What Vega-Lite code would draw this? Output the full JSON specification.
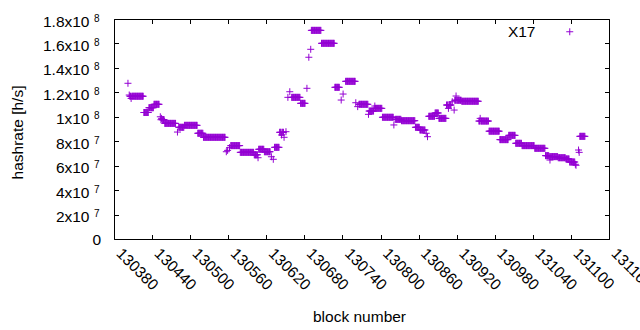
{
"$schema": "https://vega.github.io/schema/vega-lite/v6.json",
"width": 495, "height": 220,
"autosize": "none",
"padding": {"left": 114, "top": 19, "right": 31, "bottom": 91},
"background": "white",
"config": {
  "view": {"stroke": "black", "strokeWidth": 1},
  "font": "Liberation Sans",
  "axis": {"grid": false, "domain": false, "tickColor": "black", "tickWidth": 1, "labelColor": "black", "titleColor": "black",
    "labelFont": "Liberation Sans", "titleFont": "Liberation Sans", "labelFontSize": 15.5, "titleFontSize": 15.5,
    "titleFontWeight": "normal", "labelFlush": false, "labelOverlap": false}
},
"data": {"values": [
{"b":130402,"h":127.4e6},{"b":130404,"h":117.8e6},{"b":130407,"h":115.0e6},
{"b":130405,"h":116.8e6},{"b":130406,"h":116.8e6},{"b":130408,"h":116.8e6},{"b":130409,"h":116.8e6},{"b":130410,"h":116.8e6},{"b":130411,"h":116.8e6},{"b":130412,"h":116.8e6},{"b":130413,"h":116.8e6},{"b":130414,"h":116.8e6},{"b":130415,"h":116.8e6},{"b":130416,"h":116.8e6},{"b":130417,"h":116.8e6},{"b":130418,"h":116.8e6},{"b":130419,"h":116.8e6},{"b":130420,"h":116.8e6},{"b":130421,"h":116.8e6},{"b":130422,"h":116.8e6},{"b":130423,"h":116.8e6},{"b":130424,"h":116.8e6},{"b":130425,"h":116.8e6},{"b":130426,"h":116.8e6},
{"b":130427,"h":103.5e6},{"b":130428,"h":103.5e6},{"b":130429,"h":103.5e6},{"b":130430,"h":103.5e6},{"b":130431,"h":103.5e6},{"b":130432,"h":103.5e6},{"b":130433,"h":103.5e6},{"b":130434,"h":103.5e6},
{"b":130435,"h":107.4e6},{"b":130436,"h":107.4e6},{"b":130437,"h":107.4e6},{"b":130438,"h":107.4e6},{"b":130439,"h":107.4e6},{"b":130440,"h":107.4e6},{"b":130441,"h":107.4e6},{"b":130442,"h":107.4e6},
{"b":130443,"h":110.2e6},{"b":130444,"h":110.2e6},{"b":130445,"h":110.2e6},{"b":130446,"h":110.2e6},{"b":130447,"h":110.2e6},{"b":130448,"h":110.2e6},{"b":130449,"h":110.2e6},{"b":130450,"h":110.2e6},{"b":130451,"h":110.2e6},
{"b":130453,"h":100.0e6},{"b":130455,"h":98.7e6},
{"b":130454,"h":97.6e6},{"b":130456,"h":97.6e6},{"b":130457,"h":97.6e6},{"b":130458,"h":97.6e6},{"b":130459,"h":97.6e6},
{"b":130460,"h":94.6e6},{"b":130461,"h":94.6e6},{"b":130462,"h":94.6e6},{"b":130463,"h":94.6e6},{"b":130464,"h":94.6e6},{"b":130465,"h":94.6e6},{"b":130466,"h":94.6e6},{"b":130467,"h":94.6e6},{"b":130468,"h":94.6e6},{"b":130469,"h":94.6e6},{"b":130470,"h":94.6e6},{"b":130471,"h":94.6e6},{"b":130472,"h":94.6e6},{"b":130473,"h":94.6e6},{"b":130474,"h":94.6e6},{"b":130475,"h":94.6e6},{"b":130476,"h":94.6e6},{"b":130477,"h":94.6e6},
{"b":130480,"h":87.5e6},
{"b":130482,"h":91.4e6},{"b":130483,"h":91.4e6},{"b":130484,"h":91.4e6},{"b":130485,"h":91.4e6},{"b":130486,"h":91.4e6},{"b":130487,"h":91.4e6},{"b":130488,"h":91.4e6},{"b":130489,"h":91.4e6},{"b":130490,"h":91.4e6},
{"b":130491,"h":93.0e6},{"b":130492,"h":93.0e6},{"b":130493,"h":93.0e6},{"b":130494,"h":93.0e6},{"b":130495,"h":93.0e6},{"b":130496,"h":93.0e6},{"b":130497,"h":93.0e6},{"b":130498,"h":93.0e6},{"b":130499,"h":93.0e6},{"b":130500,"h":93.0e6},{"b":130501,"h":93.0e6},{"b":130502,"h":93.0e6},{"b":130503,"h":93.0e6},{"b":130504,"h":93.0e6},{"b":130505,"h":93.0e6},{"b":130506,"h":93.0e6},{"b":130507,"h":93.0e6},{"b":130508,"h":93.0e6},{"b":130509,"h":93.0e6},{"b":130510,"h":93.0e6},{"b":130511,"h":93.0e6},
{"b":130512,"h":86.5e6},{"b":130513,"h":86.5e6},{"b":130514,"h":86.5e6},{"b":130515,"h":86.5e6},{"b":130516,"h":86.5e6},{"b":130517,"h":86.5e6},{"b":130518,"h":86.5e6},{"b":130519,"h":86.5e6},{"b":130520,"h":86.5e6},
{"b":130521,"h":83.2e6},{"b":130522,"h":83.2e6},{"b":130523,"h":83.2e6},{"b":130524,"h":83.2e6},{"b":130525,"h":83.2e6},{"b":130526,"h":83.2e6},{"b":130527,"h":83.2e6},{"b":130528,"h":83.2e6},{"b":130529,"h":83.2e6},{"b":130530,"h":83.2e6},{"b":130531,"h":83.2e6},{"b":130532,"h":83.2e6},{"b":130533,"h":83.2e6},{"b":130534,"h":83.2e6},{"b":130535,"h":83.2e6},{"b":130536,"h":83.2e6},{"b":130537,"h":83.2e6},{"b":130538,"h":83.2e6},{"b":130539,"h":83.2e6},{"b":130540,"h":83.2e6},{"b":130541,"h":83.2e6},{"b":130542,"h":83.2e6},{"b":130543,"h":83.2e6},{"b":130544,"h":83.2e6},{"b":130545,"h":83.2e6},{"b":130546,"h":83.2e6},{"b":130547,"h":83.2e6},{"b":130548,"h":83.2e6},{"b":130549,"h":83.2e6},{"b":130550,"h":83.2e6},{"b":130551,"h":83.2e6},{"b":130552,"h":83.2e6},{"b":130553,"h":83.2e6},{"b":130554,"h":83.2e6},{"b":130555,"h":83.2e6},
{"b":130557,"h":71.4e6},{"b":130559,"h":72.5e6},{"b":130562,"h":74.7e6},
{"b":130564,"h":76.4e6},{"b":130565,"h":76.4e6},{"b":130566,"h":76.4e6},{"b":130567,"h":76.4e6},{"b":130568,"h":76.4e6},{"b":130569,"h":76.4e6},{"b":130570,"h":76.4e6},{"b":130571,"h":76.4e6},{"b":130572,"h":76.4e6},{"b":130573,"h":76.4e6},{"b":130574,"h":76.4e6},{"b":130575,"h":76.4e6},{"b":130576,"h":76.4e6},{"b":130577,"h":76.4e6},{"b":130578,"h":76.4e6},
{"b":130579,"h":70.9e6},{"b":130580,"h":70.9e6},{"b":130581,"h":70.9e6},{"b":130582,"h":70.9e6},{"b":130583,"h":70.9e6},{"b":130584,"h":70.9e6},{"b":130585,"h":70.9e6},{"b":130586,"h":70.9e6},{"b":130587,"h":70.9e6},{"b":130588,"h":70.9e6},{"b":130589,"h":70.9e6},{"b":130590,"h":70.9e6},{"b":130591,"h":70.9e6},{"b":130592,"h":70.9e6},{"b":130593,"h":70.9e6},{"b":130594,"h":70.9e6},{"b":130595,"h":70.9e6},{"b":130596,"h":70.9e6},{"b":130597,"h":70.9e6},{"b":130598,"h":70.9e6},{"b":130599,"h":70.9e6},{"b":130600,"h":70.9e6},
{"b":130601,"h":68.9e6},{"b":130602,"h":68.9e6},{"b":130603,"h":68.9e6},{"b":130604,"h":68.9e6},{"b":130605,"h":68.9e6},{"b":130606,"h":68.9e6},{"b":130607,"h":66.5e6},
{"b":130608,"h":73.4e6},{"b":130609,"h":73.4e6},{"b":130610,"h":73.4e6},{"b":130611,"h":73.4e6},{"b":130612,"h":73.4e6},{"b":130613,"h":73.4e6},{"b":130614,"h":73.4e6},{"b":130615,"h":73.4e6},{"b":130616,"h":73.4e6},
{"b":130617,"h":71.4e6},{"b":130618,"h":71.4e6},{"b":130619,"h":71.4e6},{"b":130620,"h":71.4e6},{"b":130621,"h":71.4e6},{"b":130622,"h":71.4e6},{"b":130623,"h":71.4e6},{"b":130624,"h":71.4e6},{"b":130625,"h":71.4e6},{"b":130626,"h":71.4e6},
{"b":130628,"h":67.3e6},{"b":130631,"h":65.2e6},
{"b":130633,"h":75.0e6},{"b":130634,"h":75.0e6},{"b":130635,"h":75.0e6},{"b":130636,"h":75.0e6},{"b":130637,"h":75.0e6},{"b":130638,"h":75.0e6},{"b":130639,"h":75.0e6},{"b":130640,"h":75.0e6},
{"b":130641,"h":87.3e6},{"b":130642,"h":87.3e6},{"b":130643,"h":87.3e6},{"b":130645,"h":87.3e6},{"b":130646,"h":87.3e6},{"b":130647,"h":87.3e6},
{"b":130644,"h":85.1e6},{"b":130648,"h":83.2e6},{"b":130651,"h":87.8e6},
{"b":130654,"h":115.9e6},{"b":130657,"h":120.5e6},
{"b":130660,"h":115.9e6},{"b":130661,"h":115.9e6},{"b":130662,"h":115.9e6},{"b":130663,"h":115.9e6},{"b":130664,"h":115.9e6},{"b":130665,"h":115.9e6},{"b":130666,"h":115.9e6},{"b":130667,"h":115.9e6},{"b":130668,"h":115.9e6},{"b":130669,"h":115.9e6},{"b":130670,"h":115.9e6},{"b":130671,"h":115.9e6},{"b":130672,"h":115.9e6},{"b":130673,"h":115.9e6},
{"b":130674,"h":111.0e6},{"b":130675,"h":111.0e6},{"b":130676,"h":111.0e6},{"b":130677,"h":111.0e6},{"b":130678,"h":111.0e6},{"b":130679,"h":111.0e6},{"b":130680,"h":111.0e6},{"b":130681,"h":111.0e6},
{"b":130684,"h":123.3e6},{"b":130687,"h":148.7e6},{"b":130690,"h":155.2e6},
{"b":130691,"h":170.7e6},{"b":130692,"h":170.7e6},{"b":130693,"h":170.7e6},{"b":130694,"h":170.7e6},{"b":130695,"h":170.7e6},{"b":130696,"h":170.7e6},{"b":130697,"h":170.7e6},{"b":130698,"h":170.7e6},{"b":130699,"h":170.7e6},{"b":130700,"h":170.7e6},{"b":130701,"h":170.7e6},{"b":130702,"h":170.7e6},{"b":130703,"h":170.7e6},{"b":130704,"h":170.7e6},{"b":130705,"h":170.7e6},{"b":130706,"h":170.7e6},
{"b":130707,"h":160.1e6},{"b":130708,"h":160.1e6},{"b":130709,"h":160.1e6},{"b":130710,"h":160.1e6},{"b":130711,"h":160.1e6},{"b":130712,"h":160.1e6},{"b":130713,"h":160.1e6},{"b":130714,"h":160.1e6},{"b":130715,"h":160.1e6},{"b":130716,"h":160.1e6},{"b":130717,"h":160.1e6},{"b":130718,"h":160.1e6},{"b":130719,"h":160.1e6},{"b":130720,"h":160.1e6},{"b":130721,"h":160.1e6},{"b":130722,"h":160.1e6},{"b":130723,"h":160.1e6},{"b":130724,"h":160.1e6},{"b":130725,"h":160.1e6},{"b":130726,"h":160.1e6},{"b":130727,"h":160.1e6},
{"b":130728,"h":124.1e6},{"b":130729,"h":124.1e6},{"b":130730,"h":124.1e6},{"b":130731,"h":124.1e6},{"b":130732,"h":124.1e6},{"b":130733,"h":124.1e6},{"b":130734,"h":124.1e6},{"b":130735,"h":124.1e6},
{"b":130738,"h":113.7e6},{"b":130741,"h":118.6e6},
{"b":130745,"h":129.0e6},{"b":130746,"h":129.0e6},{"b":130747,"h":129.0e6},{"b":130748,"h":129.0e6},{"b":130749,"h":129.0e6},{"b":130750,"h":129.0e6},{"b":130751,"h":129.0e6},{"b":130752,"h":129.0e6},{"b":130753,"h":129.0e6},{"b":130754,"h":129.0e6},{"b":130755,"h":129.0e6},{"b":130756,"h":129.0e6},{"b":130757,"h":129.0e6},{"b":130758,"h":129.0e6},{"b":130759,"h":129.0e6},{"b":130760,"h":129.0e6},
{"b":130761,"h":111.5e6},{"b":130764,"h":108.3e6},
{"b":130766,"h":110.2e6},{"b":130767,"h":110.2e6},{"b":130768,"h":110.2e6},{"b":130769,"h":110.2e6},{"b":130770,"h":110.2e6},{"b":130771,"h":110.2e6},{"b":130772,"h":110.2e6},{"b":130773,"h":110.2e6},{"b":130774,"h":110.2e6},{"b":130775,"h":110.2e6},{"b":130776,"h":110.2e6},{"b":130777,"h":110.2e6},{"b":130778,"h":110.2e6},{"b":130779,"h":110.2e6},{"b":130780,"h":110.2e6},
{"b":130781,"h":102.0e6},
{"b":130782,"h":104.7e6},{"b":130783,"h":104.7e6},{"b":130784,"h":104.7e6},{"b":130785,"h":104.7e6},{"b":130786,"h":104.7e6},{"b":130787,"h":104.7e6},{"b":130788,"h":104.7e6},{"b":130789,"h":104.7e6},
{"b":130791,"h":108.8e6},
{"b":130790,"h":106.9e6},{"b":130792,"h":106.9e6},{"b":130793,"h":106.9e6},{"b":130794,"h":106.9e6},{"b":130795,"h":106.9e6},{"b":130796,"h":106.9e6},{"b":130797,"h":106.9e6},{"b":130798,"h":106.9e6},{"b":130799,"h":106.9e6},{"b":130800,"h":106.9e6},{"b":130801,"h":106.9e6},{"b":130802,"h":106.9e6},
{"b":130803,"h":99.6e6},{"b":130804,"h":99.6e6},{"b":130805,"h":99.6e6},{"b":130806,"h":99.6e6},{"b":130807,"h":99.6e6},{"b":130808,"h":99.6e6},{"b":130809,"h":99.6e6},{"b":130810,"h":99.6e6},{"b":130811,"h":99.6e6},{"b":130812,"h":99.6e6},{"b":130813,"h":99.6e6},{"b":130814,"h":99.6e6},{"b":130815,"h":99.6e6},{"b":130816,"h":99.6e6},{"b":130817,"h":99.6e6},{"b":130818,"h":99.6e6},{"b":130819,"h":99.6e6},{"b":130820,"h":99.6e6},
{"b":130821,"h":93.3e6},
{"b":130823,"h":97.9e6},{"b":130824,"h":97.9e6},{"b":130825,"h":97.9e6},{"b":130826,"h":97.9e6},{"b":130827,"h":97.9e6},{"b":130828,"h":97.9e6},{"b":130829,"h":97.9e6},{"b":130830,"h":97.9e6},{"b":130831,"h":97.9e6},{"b":130832,"h":97.9e6},
{"b":130833,"h":96.8e6},{"b":130834,"h":96.8e6},{"b":130835,"h":96.8e6},{"b":130836,"h":96.8e6},{"b":130837,"h":96.8e6},{"b":130838,"h":96.8e6},{"b":130839,"h":96.8e6},{"b":130840,"h":96.8e6},{"b":130841,"h":96.8e6},{"b":130842,"h":96.8e6},{"b":130843,"h":96.8e6},{"b":130844,"h":96.8e6},{"b":130845,"h":96.8e6},{"b":130846,"h":96.8e6},{"b":130847,"h":96.8e6},{"b":130848,"h":96.8e6},{"b":130849,"h":96.8e6},{"b":130850,"h":96.8e6},{"b":130851,"h":96.8e6},{"b":130852,"h":96.8e6},{"b":130853,"h":96.8e6},{"b":130854,"h":96.8e6},
{"b":130855,"h":91.4e6},{"b":130856,"h":91.4e6},{"b":130857,"h":91.4e6},{"b":130858,"h":91.4e6},{"b":130859,"h":91.4e6},{"b":130860,"h":91.4e6},{"b":130861,"h":91.4e6},
{"b":130862,"h":89.2e6},{"b":130863,"h":89.2e6},{"b":130864,"h":89.2e6},{"b":130865,"h":89.2e6},{"b":130866,"h":89.2e6},{"b":130867,"h":89.2e6},{"b":130868,"h":89.2e6},{"b":130869,"h":89.2e6},{"b":130870,"h":89.2e6},
{"b":130872,"h":86.5e6},{"b":130874,"h":83.7e6},
{"b":130876,"h":100.4e6},{"b":130877,"h":100.4e6},{"b":130878,"h":100.4e6},{"b":130879,"h":100.4e6},{"b":130880,"h":100.4e6},{"b":130881,"h":100.4e6},{"b":130882,"h":100.4e6},{"b":130883,"h":100.4e6},{"b":130884,"h":100.4e6},{"b":130885,"h":100.4e6},
{"b":130886,"h":103.1e6},{"b":130887,"h":103.1e6},{"b":130888,"h":103.1e6},{"b":130889,"h":103.1e6},{"b":130890,"h":103.1e6},{"b":130891,"h":103.1e6},
{"b":130892,"h":98.7e6},{"b":130893,"h":98.7e6},{"b":130894,"h":98.7e6},{"b":130895,"h":98.7e6},{"b":130896,"h":98.7e6},{"b":130897,"h":98.7e6},{"b":130898,"h":98.7e6},{"b":130899,"h":98.7e6},{"b":130900,"h":98.7e6},{"b":130901,"h":98.7e6},{"b":130902,"h":98.7e6},{"b":130903,"h":98.7e6},
{"b":130904,"h":109.6e6},{"b":130905,"h":109.6e6},{"b":130906,"h":109.6e6},{"b":130908,"h":109.6e6},{"b":130909,"h":109.6e6},{"b":130910,"h":109.6e6},{"b":130911,"h":109.6e6},{"b":130907,"h":106.9e6},
{"b":130913,"h":112.3e6},{"b":130916,"h":105.5e6},{"b":130919,"h":117.0e6},
{"b":130917,"h":113.5e6},{"b":130918,"h":113.5e6},{"b":130920,"h":113.5e6},{"b":130921,"h":113.5e6},{"b":130922,"h":113.5e6},{"b":130923,"h":113.5e6},{"b":130924,"h":113.5e6},{"b":130925,"h":113.5e6},{"b":130926,"h":113.5e6},{"b":130927,"h":113.5e6},
{"b":130928,"h":112.7e6},{"b":130929,"h":112.7e6},{"b":130930,"h":112.7e6},{"b":130931,"h":112.7e6},{"b":130932,"h":112.7e6},{"b":130933,"h":112.7e6},{"b":130934,"h":112.7e6},{"b":130935,"h":112.7e6},{"b":130936,"h":112.7e6},{"b":130937,"h":112.7e6},{"b":130938,"h":112.7e6},{"b":130939,"h":112.7e6},{"b":130940,"h":112.7e6},{"b":130941,"h":112.7e6},{"b":130942,"h":112.7e6},{"b":130943,"h":112.7e6},{"b":130944,"h":112.7e6},{"b":130945,"h":112.7e6},{"b":130946,"h":112.7e6},{"b":130947,"h":112.7e6},{"b":130948,"h":112.7e6},{"b":130949,"h":112.7e6},{"b":130950,"h":112.7e6},{"b":130951,"h":112.7e6},{"b":130952,"h":112.7e6},{"b":130953,"h":112.7e6},{"b":130954,"h":112.7e6},
{"b":130955,"h":96.5e6},{"b":130956,"h":96.5e6},{"b":130958,"h":96.5e6},{"b":130959,"h":96.5e6},{"b":130960,"h":96.5e6},{"b":130961,"h":96.5e6},{"b":130962,"h":96.5e6},{"b":130963,"h":96.5e6},{"b":130964,"h":96.5e6},{"b":130965,"h":96.5e6},{"b":130966,"h":96.5e6},{"b":130967,"h":96.5e6},{"b":130968,"h":96.5e6},{"b":130969,"h":96.5e6},{"b":130970,"h":96.5e6},{"b":130957,"h":98.7e6},
{"b":130971,"h":88.2e6},{"b":130972,"h":88.2e6},{"b":130973,"h":88.2e6},{"b":130974,"h":88.2e6},{"b":130975,"h":88.2e6},{"b":130976,"h":88.2e6},{"b":130977,"h":88.2e6},{"b":130978,"h":88.2e6},{"b":130979,"h":88.2e6},{"b":130980,"h":88.2e6},{"b":130981,"h":88.2e6},{"b":130982,"h":88.2e6},{"b":130983,"h":88.2e6},{"b":130984,"h":88.2e6},{"b":130985,"h":88.2e6},{"b":130986,"h":88.2e6},{"b":130987,"h":88.2e6},
{"b":130988,"h":81.3e6},{"b":130989,"h":81.3e6},{"b":130990,"h":81.3e6},{"b":130991,"h":81.3e6},{"b":130992,"h":81.3e6},{"b":130993,"h":81.3e6},{"b":130994,"h":81.3e6},{"b":130995,"h":81.3e6},{"b":130996,"h":81.3e6},{"b":130997,"h":81.3e6},{"b":130998,"h":81.3e6},{"b":130999,"h":81.3e6},{"b":131000,"h":81.3e6},{"b":131001,"h":81.3e6},
{"b":131002,"h":84.8e6},{"b":131003,"h":84.8e6},{"b":131004,"h":84.8e6},{"b":131005,"h":84.8e6},{"b":131006,"h":84.8e6},{"b":131007,"h":84.8e6},{"b":131008,"h":84.8e6},{"b":131009,"h":84.8e6},{"b":131010,"h":84.8e6},{"b":131011,"h":84.8e6},{"b":131012,"h":84.8e6},
{"b":131013,"h":78.3e6},{"b":131014,"h":78.3e6},{"b":131015,"h":78.3e6},{"b":131016,"h":78.3e6},{"b":131017,"h":78.3e6},{"b":131018,"h":78.3e6},{"b":131019,"h":78.3e6},{"b":131020,"h":78.3e6},{"b":131021,"h":78.3e6},{"b":131022,"h":78.3e6},
{"b":131023,"h":76.4e6},{"b":131024,"h":76.4e6},{"b":131025,"h":76.4e6},{"b":131026,"h":76.4e6},{"b":131027,"h":76.4e6},{"b":131028,"h":76.4e6},{"b":131029,"h":76.4e6},{"b":131030,"h":76.4e6},{"b":131031,"h":76.4e6},{"b":131032,"h":76.4e6},{"b":131033,"h":76.4e6},{"b":131034,"h":76.4e6},{"b":131035,"h":76.4e6},{"b":131036,"h":76.4e6},{"b":131037,"h":76.4e6},{"b":131038,"h":76.4e6},{"b":131039,"h":76.4e6},{"b":131040,"h":76.4e6},{"b":131041,"h":76.4e6},{"b":131042,"h":76.4e6},
{"b":131043,"h":74.2e6},{"b":131044,"h":74.2e6},{"b":131045,"h":74.2e6},{"b":131046,"h":74.2e6},{"b":131047,"h":74.2e6},{"b":131048,"h":74.2e6},{"b":131049,"h":74.2e6},{"b":131050,"h":74.2e6},{"b":131051,"h":74.2e6},{"b":131052,"h":74.2e6},{"b":131053,"h":74.2e6},{"b":131054,"h":74.2e6},{"b":131055,"h":74.2e6},{"b":131056,"h":74.2e6},{"b":131057,"h":74.2e6},{"b":131058,"h":74.2e6},{"b":131059,"h":74.2e6},
{"b":131060,"h":68.2e6},{"b":131061,"h":68.2e6},{"b":131062,"h":68.2e6},{"b":131063,"h":68.2e6},{"b":131064,"h":68.2e6},{"b":131065,"h":68.2e6},
{"b":131066,"h":67.4e6},{"b":131068,"h":67.4e6},{"b":131069,"h":67.4e6},{"b":131070,"h":67.4e6},{"b":131071,"h":67.4e6},{"b":131072,"h":67.4e6},{"b":131073,"h":67.4e6},{"b":131074,"h":67.4e6},{"b":131075,"h":67.4e6},{"b":131076,"h":67.4e6},{"b":131077,"h":67.4e6},{"b":131078,"h":67.4e6},{"b":131079,"h":67.4e6},{"b":131067,"h":64.6e6},
{"b":131080,"h":66.5e6},{"b":131081,"h":66.5e6},{"b":131082,"h":66.5e6},{"b":131083,"h":66.5e6},{"b":131084,"h":66.5e6},{"b":131085,"h":66.5e6},{"b":131086,"h":66.5e6},{"b":131087,"h":66.5e6},{"b":131088,"h":66.5e6},{"b":131089,"h":66.5e6},{"b":131090,"h":66.5e6},{"b":131091,"h":66.5e6},
{"b":131092,"h":65.5e6},{"b":131093,"h":65.5e6},{"b":131094,"h":65.5e6},{"b":131095,"h":65.5e6},{"b":131096,"h":65.5e6},{"b":131097,"h":65.5e6},
{"b":131098,"h":63.0e6},{"b":131099,"h":63.0e6},{"b":131100,"h":63.0e6},{"b":131101,"h":63.0e6},{"b":131102,"h":63.0e6},{"b":131103,"h":63.0e6},{"b":131104,"h":63.0e6},{"b":131105,"h":63.0e6},{"b":131106,"h":63.0e6},
{"b":131107,"h":61.1e6},{"b":131108,"h":60.3e6},{"b":131112,"h":72.8e6},{"b":131113,"h":70.9e6},
{"b":131114,"h":84.0e6},{"b":131115,"h":84.0e6},{"b":131116,"h":84.0e6},{"b":131117,"h":84.0e6},{"b":131118,"h":84.0e6},{"b":131119,"h":84.0e6},{"b":131120,"h":84.0e6},{"b":131121,"h":84.0e6},{"b":131122,"h":84.0e6}
]},
"layer": [
  {
    "mark": {"type": "point", "shape": "M-1,0H1M0,-1V1", "size": 49, "filled": false, "strokeWidth": 1, "opacity": 1},
    "encoding": {
      "x": {"field": "b", "type": "quantitative",
        "scale": {"domain": [130380, 131160], "nice": false, "zero": false},
        "axis": {"orient": "bottom", "values": [130380,130440,130500,130560,130620,130680,130740,130800,130860,130920,130980,131040,131100,131160],
          "ticks": false, "tickSize": 0, "format": "d", "labelAngle": 45, "labelAlign": "left", "labelBaseline": "middle", "labelPadding": 11.5, "labelOffset": 4.5,
          "title": "block number", "titleX": 245, "titleY": 77, "titleAlign": "center", "titleBaseline": "middle"}},
      "y": {"field": "h", "type": "quantitative",
        "scale": {"domain": [0, 180000000], "nice": false, "zero": true},
        "axis": {"orient": "left", "values": [0,20000000,40000000,60000000,80000000,100000000,120000000,140000000,160000000,180000000],
          "ticks": false, "tickSize": 0,
          "labelExpr": "datum.value == 0 ? '' : (datum.value < 100000000 ? round(datum.value/10000000) + 'x10' : round(datum.value/10000000)/10 + 'x10')",
          "labelAlign": "right", "labelBaseline": "middle", "labelPadding": 25, "labelOffset": 2,
          "title": "hashrate [h/s]", "titleX": -97, "titleY": 113, "titleAngle": -90, "titleAlign": "center", "titleBaseline": "middle"}},
      "color": {"datum": "X17", "type": "nominal", "scale": {"range": ["#9400d3"]},
        "legend": {"orient": "none", "legendX": 448, "legendY": 5, "title": null, "symbolType": "M-1,0H1M0,-1V1", "symbolSize": 49,
          "symbolStrokeWidth": 1, "labelAlign": "right", "labelOffset": -42, "labelFontSize": 15.5, "labelFont": "Liberation Sans", "labelColor": "black", "padding": 0}}
    }
  },
  {
    "mark": {"type": "point", "opacity": 0},
    "encoding": {
      "x": {"field": "b", "type": "quantitative",
        "axis": {"orient": "bottom", "values": [130380,130440,130500,130560,130620,130680,130740,130800,130860,130920,130980,131040,131100,131160], "labels": false, "tickSize": -4.5, "title": null}},
      "y": {"field": "h", "type": "quantitative",
        "axis": {"orient": "left", "values": [0,20000000,40000000,60000000,80000000,100000000,120000000,140000000,160000000,180000000],
          "ticks": false, "tickSize": 0,
          "labelExpr": "datum.value == 0 ? '0' : (datum.value < 100000000 ? '7' : '8')",
          "labelAlign": "left", "labelBaseline": "middle",
          "labelPadding": {"condition": {"test": "datum.value == 0", "value": 22}, "value": 20.5},
          "labelFontSize": {"condition": {"test": "datum.value == 0", "value": 15.5}, "value": 10},
          "labelOffset": {"condition": {"test": "datum.value == 0", "value": 0}, "value": -1},
          "title": null}}
    }
  },
  {
    "mark": {"type": "point", "opacity": 0},
    "encoding": {
      "x": {"field": "b", "type": "quantitative",
        "axis": {"orient": "top", "values": [130380,130440,130500,130560,130620,130680,130740,130800,130860,130920,130980,131040,131100,131160], "labels": false, "tickSize": -4.5, "title": null}},
      "y": {"field": "h", "type": "quantitative",
        "axis": {"orient": "left", "values": [0,20000000,40000000,60000000,80000000,100000000,120000000,140000000,160000000,180000000], "labels": false, "tickSize": -4.5, "title": null}}
    }
  },
  {
    "mark": {"type": "point", "opacity": 0},
    "encoding": {
      "x": {"field": "b", "type": "quantitative", "axis": null},
      "y": {"field": "h", "type": "quantitative",
        "axis": {"orient": "right", "values": [0,20000000,40000000,60000000,80000000,100000000,120000000,140000000,160000000,180000000], "labels": false, "tickSize": -4.5, "title": null}}
    }
  }
],
"resolve": {"axis": {"x": "independent", "y": "independent"}}
}
